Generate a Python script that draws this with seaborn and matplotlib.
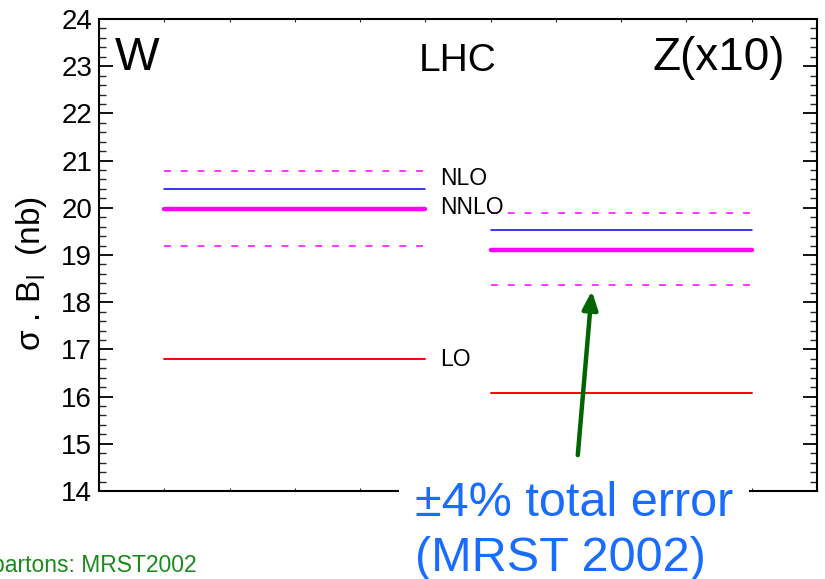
import matplotlib
matplotlib.use("Agg")
import matplotlib.pyplot as plt
from matplotlib.ticker import MultipleLocator, NullFormatter
import seaborn as sns
import pandas as pd

# ---- data ----
processes = ["W", "Z(x10)"]
lo_vals = [16.80, 16.08]
nlo_vals = [20.40, 19.52]
nnlo_vals = [19.98, 19.11]
nnlo_up_vals = [20.77, 19.88]
nnlo_down_vals = [19.19, 18.37]
order_labels = ["NLO", "NNLO", "LO"]
y_ticks = [14, 15, 16, 17, 18, 19, 20, 21, 22, 23, 24]

sns.set_theme(style="white")
plt.rcParams["font.family"] = ["Liberation Sans", "DejaVu Sans"]
plt.rcParams["mathtext.fontset"] = "custom"
plt.rcParams["mathtext.rm"] = "Liberation Sans"
plt.rcParams["text.color"] = "black"
plt.rcParams["axes.labelcolor"] = "black"

fig = plt.figure(figsize=(8.25, 5.79), dpi=100)
ax = fig.add_axes([99/825, 1-491/579, (817-99)/825, (491-19)/579])

spans = [(1, 5), (6, 10)]
rows = []
for i, p in enumerate(processes):
    x0, x1 = spans[i]
    for name, vals in [("lo", lo_vals), ("nlo", nlo_vals), ("nnlo", nnlo_vals),
                       ("up", nnlo_up_vals), ("down", nnlo_down_vals)]:
        rows.append({"proc": p, "order": name, "x": x0, "y": vals[i]})
        rows.append({"proc": p, "order": name, "x": x1, "y": vals[i]})
df = pd.DataFrame(rows)

styles = {
    "lo": dict(color="#ff0000", linewidth=1.4),
    "nlo": dict(color="#0000ff", linewidth=1.1),
    "nnlo": dict(color="#ff00ff", linewidth=3.2, solid_capstyle="round"),
    "up": dict(color="#ff00ff", linewidth=1.1, dashes=(4.5, 6.5)),
    "down": dict(color="#ff00ff", linewidth=1.1, dashes=(4.5, 6.5)),
}
for (p, o), sub in df.groupby(["proc", "order"]):
    st = dict(styles[o])
    dash = st.pop("dashes", None)
    sns.lineplot(data=sub, x="x", y="y", ax=ax, estimator=None, sort=False, **st)
    if dash is not None:
        ax.lines[-1].set_dashes(dash)

ax.set_xlim(0, 11)
ax.set_ylim(14, 24)
ax.set_xlabel("")
ax.set_ylabel(r"σ . B$_{\rm l}$  (nb)", fontsize=24)
ax.yaxis.set_label_coords(-0.07, 0.46)
ax.set_yticks(y_ticks)
ax.yaxis.set_minor_locator(MultipleLocator(0.2))
ax.xaxis.set_major_locator(MultipleLocator(1))
ax.xaxis.set_major_formatter(NullFormatter())
ax.tick_params(axis="y", which="major", direction="in", length=10, width=1.3,
               left=True, right=True, labelsize=20, pad=5, colors="black")
ax.tick_params(axis="y", which="minor", direction="in", length=5, width=1.0,
               left=True, right=True)
ax.tick_params(axis="x", which="major", direction="in", length=2.5, width=0.8,
               top=True, bottom=True)
for s in ax.spines.values():
    s.set_linewidth(1.5)
    s.set_color("black")

# header labels
ax.text(0.245, 22.93, "W", fontsize=34, ha="left", va="baseline")
ax.text(4.9, 22.9, "LHC", fontsize=28, ha="left", va="baseline")
ax.text(8.48, 22.93, "Z(x10)", fontsize=33, ha="left", va="baseline")

# order labels next to W lines
ax.text(5.22, 20.63, order_labels[0], fontsize=16.5, ha="left", va="center")
ax.text(5.22, 20.0, order_labels[1], fontsize=16.5, ha="left", va="center")
ax.text(5.22, 16.78, order_labels[2], fontsize=16.5, ha="left", va="center")

# arrow
ax.annotate("", xy=(7.55, 18.24), xytext=(7.335, 14.76),
            arrowprops=dict(arrowstyle="-|>,head_width=0.38,head_length=0.9",
                            color="#006400", lw=3.2, shrinkA=0, shrinkB=0))

# error text
fig.text(415/825, 1-516/579, "±4% total error", fontsize=35, color="#1a6cff",
         ha="left", va="baseline",
         bbox=dict(boxstyle="square,pad=0.33", facecolor="white", edgecolor="none"))
fig.text(415/825, 1-571/579, "(MRST 2002)", fontsize=35, color="#1a6cff",
         ha="left", va="baseline")
fig.text(197/825, 1-572/579, "partons: MRST2002", fontsize=16.5, color="#1a8c1a",
         ha="right", va="baseline")

fig.savefig("out.png", dpi=100)
